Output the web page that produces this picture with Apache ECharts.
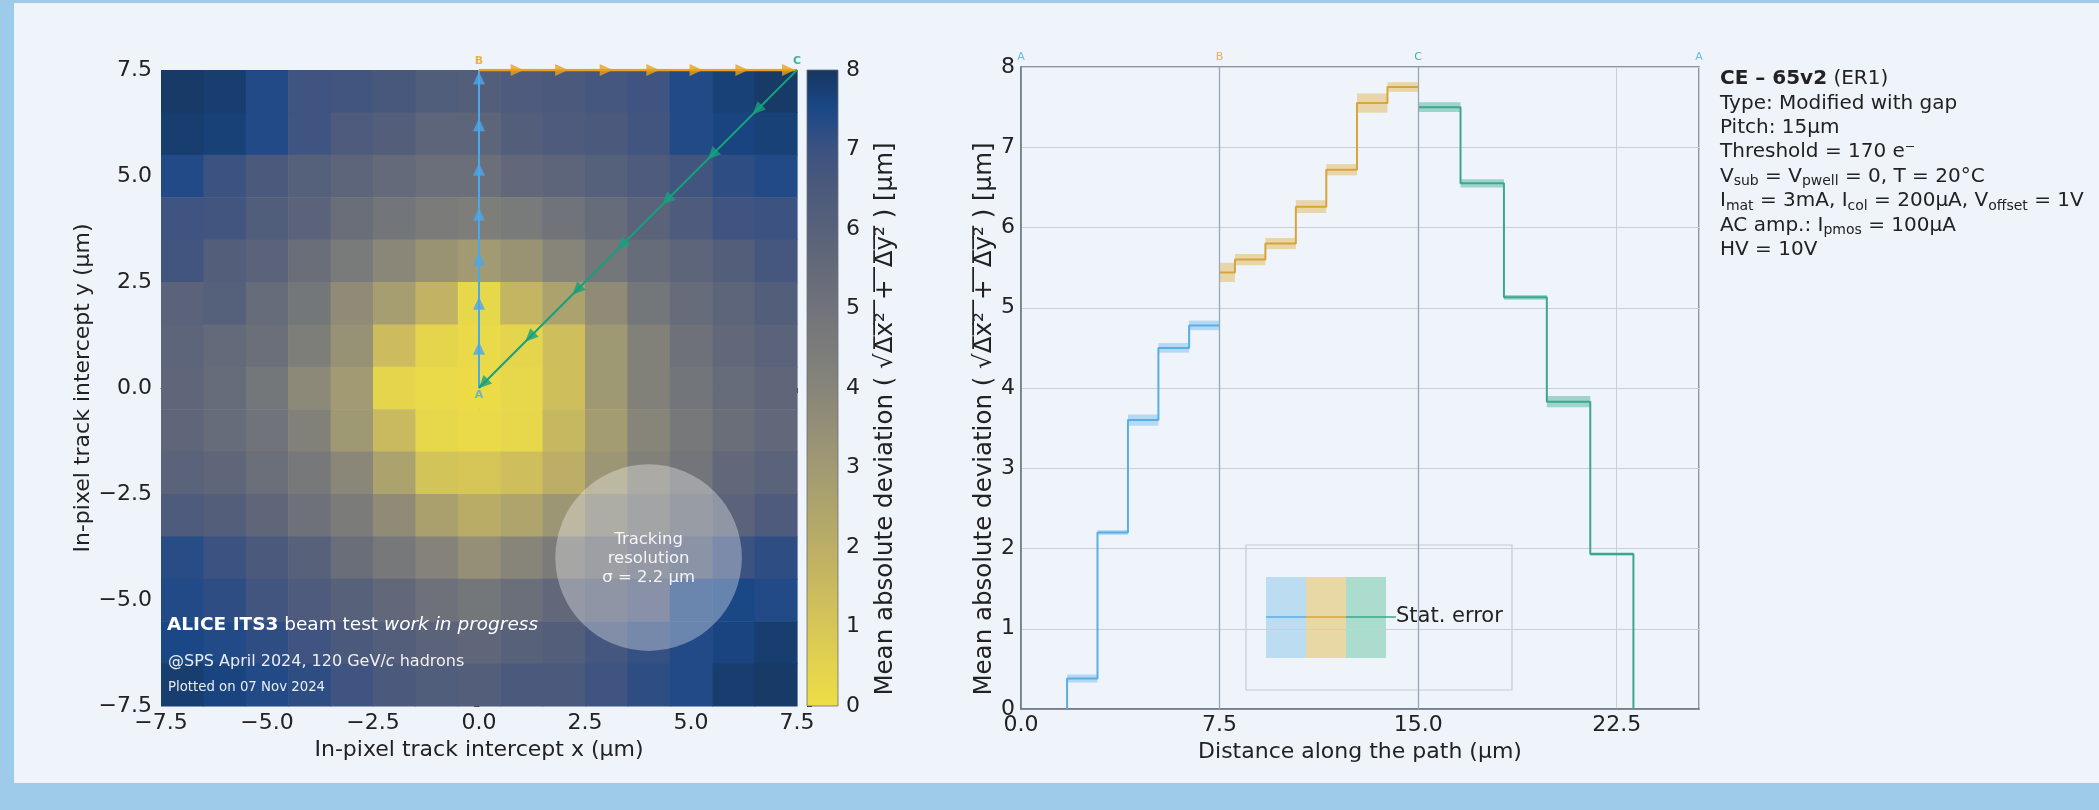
<!DOCTYPE html>
<html>
<head>
<meta charset="utf-8">
<script src="https://cdn.jsdelivr.net/npm/echarts@6.0.0/dist/echarts.min.js"></script>
<style>
  html, body { margin: 0; padding: 0; background: #9fcbea; }
  #chart { width: 2099px; height: 810px; }
</style>
</head>
<body>
<div id="chart"></div>
<script>
  // in-pixel map, 1 um cells; rows from top (y = 7) to bottom (y = -7)
  const xCenters = [-7, -6, -5, -4, -3, -2, -1, 0, 1, 2, 3, 4, 5, 6, 7]
  const yCenters = [7, 6, 5, 4, 3, 2, 1, 0, -1, -2, -3, -4, -5, -6, -7]
  const heatRows = [
    [7.9, 7.8, 7.4, 6.9, 6.8, 6.6, 6.3, 6.2, 6.4, 6.5, 6.7, 6.9, 7.4, 7.7, 7.9],
    [7.8, 7.7, 7.4, 6.9, 6.4, 6.2, 5.8, 5.8, 6.2, 6.4, 6.5, 6.8, 7.4, 7.6, 7.7],
    [7.4, 7.0, 6.5, 6.1, 5.8, 5.5, 5.2, 5.2, 5.6, 5.8, 6.1, 6.4, 6.8, 7.2, 7.4],
    [6.9, 6.8, 6.3, 5.9, 5.3, 4.9, 4.5, 4.4, 4.6, 5.0, 5.4, 5.9, 6.4, 6.9, 7.0],
    [6.8, 6.2, 5.9, 5.3, 4.6, 3.9, 3.3, 3.0, 3.3, 4.0, 4.8, 5.4, 5.8, 6.2, 6.7],
    [5.9, 6.1, 5.4, 4.8, 3.7, 2.8, 1.8, 0.3, 1.7, 2.6, 3.7, 4.8, 5.4, 5.8, 6.2],
    [5.8, 5.5, 5.2, 4.4, 3.4, 1.4, 0.4, 0.2, 0.4, 1.3, 3.1, 4.2, 5.1, 5.6, 5.9],
    [5.7, 5.4, 4.8, 3.8, 3.0, 0.4, 0.2, 0.1, 0.3, 1.3, 3.1, 4.2, 4.9, 5.4, 5.7],
    [5.7, 5.4, 5.0, 4.2, 3.1, 1.5, 0.3, 0.2, 0.3, 1.6, 2.9, 4.0, 4.7, 5.3, 5.6],
    [5.9, 5.7, 5.2, 4.7, 3.9, 2.6, 1.1, 1.0, 1.3, 2.0, 3.2, 4.2, 4.9, 5.6, 5.9],
    [6.4, 6.2, 5.7, 5.1, 4.5, 3.7, 2.7, 2.1, 2.5, 3.2, 4.0, 4.7, 5.4, 5.9, 6.4],
    [7.3, 7.0, 6.5, 6.0, 5.3, 4.7, 4.1, 3.5, 4.0, 4.5, 5.1, 5.6, 6.2, 7.0, 7.2],
    [7.4, 7.2, 6.8, 6.4, 6.0, 5.6, 5.1, 4.8, 5.2, 5.6, 6.0, 6.4, 7.4, 7.5, 7.4],
    [7.5, 7.4, 7.2, 6.9, 6.5, 6.2, 5.9, 5.7, 6.0, 6.2, 6.7, 7.1, 7.4, 7.6, 7.8],
    [7.8, 7.6, 7.4, 7.2, 6.9, 6.5, 6.3, 6.2, 6.5, 6.5, 6.9, 7.2, 7.4, 7.8, 7.9]
  ]
  const colorMin = 0
  const colorMax = 8
  // cividis (reversed), as it looks in the picture
  const cmapColors = ['#eedd44', '#e3d34e', '#d6c657', '#c9ba5f', '#bcae66', '#aea46c', '#a19a72', '#948f76',
    '#878579', '#7b7c7a', '#70737a', '#646a79', '#58617a', '#4b5a7c', '#3c5281', '#1a4887', '#16365f']

  // arrows along the path A -> B -> C -> A
  const abMarkY = [0.94, 2.0, 3.05, 4.1, 5.16, 6.21, 7.31]
  const bcMarkX = [0.9, 1.95, 3.0, 4.1, 5.12, 6.2, 7.3]
  const caMarkXY = [6.56, 5.5, 4.43, 3.37, 2.31, 1.2, 0.1]
  const resCircle = [4, -4, 2.2] // centre x, centre y, sigma

  // profile along the path (bin edges, values, stat. errors)
  const pathLength = 25.607
  const pathLetters = ['A', 'B', 'C', 'A']
  const pathLetterPos = [0, 7.5, 15, 25.607]
  const blueEdges = [1.74, 2.89, 4.04, 5.19, 6.35, 7.5]
  const blueVals = [0.38, 2.2, 3.6, 4.5, 4.78]
  const blueErr = [0.05, 0.03, 0.07, 0.06, 0.06]
  const orangeEdges = [7.5, 8.08, 9.23, 10.38, 11.53, 12.69, 13.84, 15.0]
  const orangeVals = [5.44, 5.6, 5.8, 6.26, 6.72, 7.55, 7.75]
  const orangeErr = [0.12, 0.07, 0.07, 0.08, 0.07, 0.12, 0.06]
  const tealEdges = [15.0, 16.6, 18.24, 19.86, 21.5, 23.13]
  const tealVals = [7.5, 6.55, 5.13, 3.83, 1.93]
  const tealErr = [0.06, 0.05, 0.03, 0.07, 0.02]

  const FONT = 'DejaVu Sans'
  const cBlue = '#4aa8ec'
  const cOrange = '#e9a11a'
  const cTeal = '#16a07e'
  const letterColors = [cBlue, cOrange, cTeal, cBlue]

  const heatData = []
  heatRows.forEach((row, i) => {
    row.forEach((v, j) => heatData.push([xCenters[j], yCenters[i], v]))
  })

  function stepPoints(edges, vals, fromZero, toZero) {
    const pts = []
    if (fromZero) pts.push([edges[0], 0])
    vals.forEach((v, i) => {
      pts.push([edges[i], v], [edges[i + 1], v])
    })
    if (toZero) pts.push([edges[edges.length - 1], 0])
    return pts
  }
  function bandRows(edges, vals, errs) {
    return vals.map((v, i) => [edges[i], edges[i + 1], v - errs[i], v + errs[i]])
  }
  function bandSeries(rows, fill) {
    return {
      type: 'custom', xAxisIndex: 2, yAxisIndex: 2, data: rows, z: 3,
      renderItem: function(params, api) {
        const a = api.coord([api.value(0), api.value(3)])
        const b = api.coord([api.value(1), api.value(2)])
        return { type: 'rect', shape: { x: a[0], y: a[1], width: b[0] - a[0], height: b[1] - a[1] }, style: { fill: fill } }
      }
    }
  }
  function stepSeries(pts, color) {
    return {
      type: 'line', xAxisIndex: 2, yAxisIndex: 2, data: pts, showSymbol: false, z: 4,
      lineStyle: { color: color, width: 2 }, animation: false
    }
  }
  const minus = v => (v < 0 ? '\u2212' : '') + Math.abs(v).toFixed(1)
  const overline = s => s.split('').map(ch => ch + '\u0305').join('')
  const devName = 'Mean absolute deviation ( \u221a' + overline('\u0394x\u00b2\u2002+\u2002\u0394y\u00b2') + ' ) [\u00b5m]'

  const tickStyle = { fontFamily: FONT, fontSize: 22, color: '#222' }
  const nameStyle = { fontFamily: FONT, fontSize: 22, color: '#222' }
  // the label sits a bit below the axis middle in the original
  const devStyle = { fontFamily: FONT, fontSize: 24.5, color: '#222', padding: [0, 62, 0, 0] }

  // info text on the right
  const infoLines = [
    '{b|CE \u2013 65v2} (ER1)',
    'Type: Modified with gap',
    'Pitch: 15\u00b5m',
    'Threshold = 170 e\u207b',
    'V{s|sub} = V{s|pwell} = 0, T = 20\u00b0C',
    'I{s|mat} = 3mA, I{s|col} = 200\u00b5A, V{s|offset} = 1V',
    'AC amp.: I{s|pmos} = 100\u00b5A',
    'HV = 10V'
  ]
  const infoGraphics = infoLines.map((t, i) => ({
    type: 'text', x: 1720, y: 79 + i * 24.4, z: 20,
    style: {
      text: t, fontFamily: FONT, fontSize: 20, fill: '#222', verticalAlign: 'middle',
      rich: {
        b: { fontFamily: FONT, fontSize: 20, fontWeight: 'bold', fill: '#222' },
        s: { fontFamily: FONT, fontSize: 14, fill: '#222', verticalAlign: 'bottom', padding: [10, 0, 0, 0] }
      }
    }
  }))

  const chart = echarts.init(document.getElementById('chart'))
  const option = {
    animation: false,
    textStyle: { fontFamily: FONT },
    grid: [
      { left: 161, top: 70, width: 636, height: 636, outerBoundsMode: 'none' },
      { left: 807, top: 70, width: 31, height: 636, outerBoundsMode: 'none' },
      { left: 1021, top: 67, width: 678, height: 642, outerBoundsMode: 'none', show: true, borderColor: '#6e7782', borderWidth: 1.5, backgroundColor: 'transparent' }
    ],
    visualMap: {
      type: 'continuous', show: false, min: colorMin, max: colorMax, dimension: 2, seriesIndex: 0,
      inRange: { color: cmapColors }
    },
    xAxis: [
      {
        gridIndex: 0, type: 'value', min: -7.5, max: 7.5, interval: 2.5,
        name: 'In-pixel track intercept x (\u00b5m)', nameLocation: 'middle', nameGap: 30, nameTextStyle: nameStyle,
        axisLine: { lineStyle: { color: '#333', width: 1 } },
        axisTick: { show: true, inside: false, length: 5, lineStyle: { color: '#333' } },
        axisLabel: Object.assign({ margin: 6, formatter: minus }, tickStyle),
        splitLine: { show: false }
      },
      {
        gridIndex: 1, type: 'value', min: 0, max: 1, show: false
      },
      {
        gridIndex: 2, type: 'value', min: 0, max: pathLength, interval: 7.5,
        name: 'Distance along the path (\u00b5m)', nameLocation: 'middle', nameGap: 29, nameTextStyle: nameStyle,
        axisLine: { lineStyle: { color: '#6e7782', width: 1.5 } },
        axisTick: { show: false },
        axisLabel: Object.assign({
          margin: 5, showMaxLabel: false,
          formatter: v => (Math.abs(v / 7.5 - Math.round(v / 7.5)) < 1e-6 ? v.toFixed(1) : '')
        }, tickStyle),
        splitLine: { show: true, lineStyle: { color: '#c9cfd7', width: 1 } }
      }
    ],
    yAxis: [
      {
        gridIndex: 0, type: 'value', min: -7.5, max: 7.5, interval: 2.5,
        name: 'In-pixel track intercept y (\u00b5m)', nameLocation: 'middle', nameRotate: 90, nameGap: 64, nameTextStyle: nameStyle,
        axisLine: { show: true, lineStyle: { color: '#333', width: 1 } },
        axisTick: { show: true, inside: false, length: 5, lineStyle: { color: '#333' } },
        axisLabel: Object.assign({ margin: 9, formatter: minus }, tickStyle),
        splitLine: { show: false }
      },
      {
        gridIndex: 1, type: 'value', min: colorMin, max: colorMax, interval: 1, position: 'right',
        name: devName, nameLocation: 'middle', nameRotate: 90, nameGap: 35, nameTextStyle: devStyle,
        axisLine: { show: false },
        axisTick: { show: true, inside: false, length: 5, lineStyle: { color: '#333' } },
        axisLabel: Object.assign({ margin: 8 }, tickStyle),
        splitLine: { show: false }
      },
      {
        gridIndex: 2, type: 'value', min: 0, max: 8, interval: 1,
        name: devName, nameLocation: 'middle', nameRotate: 90, nameGap: 24, nameTextStyle: devStyle,
        axisLine: { show: true, lineStyle: { color: '#6e7782', width: 1.5 } },
        axisTick: { show: false },
        axisLabel: Object.assign({ margin: 6 }, tickStyle),
        splitLine: { show: true, lineStyle: { color: '#c9cfd7', width: 1 } }
      }
    ],
    series: [
      {
        type: 'custom', xAxisIndex: 0, yAxisIndex: 0, data: heatData, z: 1,
        encode: { x: 0, y: 1 },
        renderItem: function(params, api) {
          const x = api.value(0)
          const y = api.value(1)
          const a = api.coord([x - 0.5, y + 0.5])
          const b = api.coord([x + 0.5, y - 0.5])
          return {
            type: 'rect',
            shape: { x: a[0], y: a[1], width: b[0] - a[0] + 0.6, height: b[1] - a[1] + 0.6 },
            style: { fill: api.visual('color') }
          }
        }
      },
      {
        // colour bar
        type: 'custom', xAxisIndex: 1, yAxisIndex: 1, data: [[0, colorMin, colorMax]], z: 1,
        renderItem: function(params, api) {
          const a = api.coord([0, api.value(2)])
          const b = api.coord([1, api.value(1)])
          const stops = cmapColors.map((c, i) => ({ offset: i / (cmapColors.length - 1), color: c }))
          return {
            type: 'rect',
            shape: { x: a[0], y: a[1], width: b[0] - a[0], height: b[1] - a[1] },
            style: { fill: new echarts.graphic.LinearGradient(0, 1, 0, 0, stops), stroke: '#6a6f78', lineWidth: 0.8 }
          }
        }
      },
      {
        // tracking resolution disc
        type: 'custom', xAxisIndex: 0, yAxisIndex: 0, data: [resCircle], z: 2,
        renderItem: function(params, api) {
          const c = api.coord([api.value(0), api.value(1)])
          const r = api.size([api.value(2), 0])[0]
          return {
            type: 'group',
            children: [
              { type: 'circle', shape: { cx: c[0], cy: c[1], r: r }, style: { fill: 'rgba(255,255,255,0.33)' } },
              {
                type: 'text', x: c[0], y: c[1] + 1,
                style: {
                  text: 'Tracking\nresolution\n\u03c3 = 2.2 \u00b5m', fontFamily: FONT, fontSize: 16.5, lineHeight: 19,
                  fill: 'rgba(255,255,255,0.9)', align: 'center', verticalAlign: 'middle'
                }
              }
            ]
          }
        }
      },
      {
        type: 'line', xAxisIndex: 0, yAxisIndex: 0, data: [[0, 0], [0, 7.5]], showSymbol: false, z: 3,
        lineStyle: { color: cBlue, width: 2 }
      },
      {
        type: 'line', xAxisIndex: 0, yAxisIndex: 0, data: [[0, 7.5], [7.5, 7.5]], showSymbol: false, z: 3,
        lineStyle: { color: cOrange, width: 2.5 }
      },
      {
        type: 'line', xAxisIndex: 0, yAxisIndex: 0, data: [[7.5, 7.5], [0, 0]], showSymbol: false, z: 3,
        lineStyle: { color: cTeal, width: 2 }
      },
      {
        type: 'scatter', xAxisIndex: 0, yAxisIndex: 0, z: 4, symbol: 'triangle', symbolSize: [12, 13],
        itemStyle: { color: cBlue }, data: abMarkY.map(y => [0, y])
      },
      {
        type: 'scatter', xAxisIndex: 0, yAxisIndex: 0, z: 4, symbol: 'triangle', symbolSize: [12, 13], symbolRotate: -90,
        itemStyle: { color: cOrange }, data: bcMarkX.map(x => [x, 7.5])
      },
      {
        type: 'scatter', xAxisIndex: 0, yAxisIndex: 0, z: 4, symbol: 'triangle', symbolSize: [12, 13], symbolRotate: 135,
        itemStyle: { color: cTeal }, data: caMarkXY.map(v => [v, v])
      },
      {
        type: 'scatter', xAxisIndex: 0, yAxisIndex: 0, z: 5, symbolSize: 0, clip: false,
        data: [
          { value: [0, 0], label: { position: 'bottom', color: cBlue, distance: 2 } },
          { value: [0, 7.5], label: { position: 'top', color: cOrange } },
          { value: [7.5, 7.5], label: { position: 'top', color: cTeal } }
        ],
        label: { show: true, fontFamily: FONT, fontSize: 11, fontWeight: 'bold', distance: 3, formatter: p => pathLetters[p.dataIndex] }
      },
      bandSeries(bandRows(blueEdges, blueVals, blueErr), 'rgba(90,174,230,0.38)'),
      bandSeries(bandRows(orangeEdges, orangeVals, orangeErr), 'rgba(225,172,60,0.42)'),
      bandSeries(bandRows(tealEdges, tealVals, tealErr), 'rgba(50,168,138,0.42)'),
      Object.assign(stepSeries(stepPoints(blueEdges, blueVals, true, false), '#5aaee6'), {
        markLine: {
          symbol: 'none', silent: true, label: { show: false },
          lineStyle: { color: '#9ca6b9', type: 'solid', width: 1.3 },
          data: [{ xAxis: 7.5 }, { xAxis: 15 }]
        }
      }),
      stepSeries(stepPoints(orangeEdges, orangeVals, false, false), '#d9a43a'),
      stepSeries(stepPoints(tealEdges, tealVals, false, true), '#3aa88c'),
      {
        type: 'scatter', xAxisIndex: 2, yAxisIndex: 2, z: 5, symbolSize: 0, clip: false,
        data: pathLetterPos.map((x, i) => ({ value: [x, 8], label: { color: letterColors[i] } })),
        label: { show: true, position: 'top', distance: 4, fontFamily: FONT, fontSize: 11, formatter: p => pathLetters[p.dataIndex] }
      }
    ],
    graphic: [
      { type: 'rect', z: -100, shape: { x: 14, y: 3, width: 2085, height: 780 }, style: { fill: '#eef4fa' } },
      {
        type: 'text', x: 167, y: 625, z: 20,
        style: {
          text: '{b|ALICE ITS3} beam test {i|work in progress}', fontFamily: FONT, fontSize: 18.5, fill: '#fff', verticalAlign: 'middle',
          rich: {
            b: { fontFamily: FONT, fontSize: 18.5, fontWeight: 'bold', fill: '#fff' },
            i: { fontFamily: FONT, fontSize: 18.5, fontStyle: 'italic', fill: '#fff' }
          }
        }
      },
      {
        type: 'text', x: 168, y: 662, z: 20,
        style: {
          text: '@SPS April 2024, 120 GeV/{i|c} hadrons', fontFamily: FONT, fontSize: 16, fill: 'rgba(255,255,255,0.9)', verticalAlign: 'middle',
          rich: { i: { fontFamily: FONT, fontSize: 16, fontStyle: 'italic', fill: 'rgba(255,255,255,0.9)' } }
        }
      },
      {
        type: 'text', x: 168, y: 688, z: 20,
        style: { text: 'Plotted on 07 Nov 2024', fontFamily: FONT, fontSize: 13.3, fill: 'rgba(255,255,255,0.9)', verticalAlign: 'middle' }
      },
      // legend
      {
        type: 'group', z: 30,
        children: [
          { type: 'rect', shape: { x: 1246, y: 545, width: 266, height: 145 }, style: { fill: '#eef4fa', stroke: '#c6cbd2', lineWidth: 1.2 } },
          { type: 'rect', shape: { x: 1266, y: 577, width: 40, height: 81 }, style: { fill: '#bcdcf2' } },
          { type: 'rect', shape: { x: 1306, y: 577, width: 40, height: 81 }, style: { fill: '#e8d8a6' } },
          { type: 'rect', shape: { x: 1346, y: 577, width: 40, height: 81 }, style: { fill: '#abdcce' } },
          { type: 'line', shape: { x1: 1266, y1: 617, x2: 1306, y2: 617 }, style: { stroke: '#5aaee6', lineWidth: 1.5 } },
          { type: 'line', shape: { x1: 1306, y1: 617, x2: 1346, y2: 617 }, style: { stroke: '#d9a43a', lineWidth: 1.5 } },
          { type: 'line', shape: { x1: 1346, y1: 617, x2: 1396, y2: 617 }, style: { stroke: '#3aa88c', lineWidth: 1.5 } },
          { type: 'text', x: 1396, y: 617, style: { text: 'Stat. error', fontFamily: FONT, fontSize: 21, fill: '#222', verticalAlign: 'middle' } }
        ]
      }
    ].concat(infoGraphics)
  }
  chart.setOption(option)
</script>
</body>
</html>
